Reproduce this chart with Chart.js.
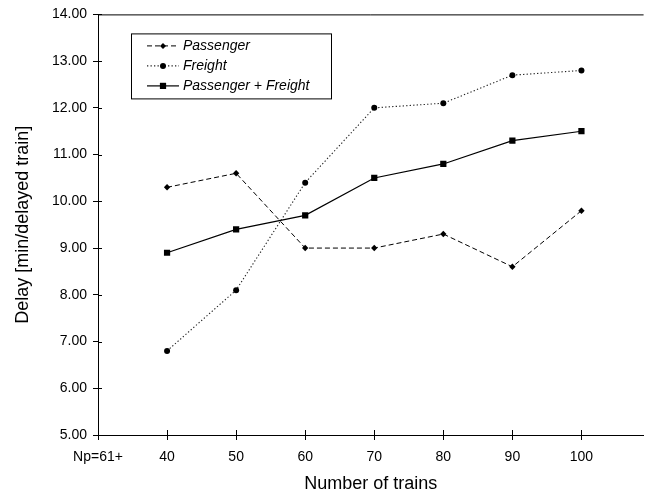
<!DOCTYPE html>
<html>
<head>
<meta charset="utf-8">
<script src="https://cdn.jsdelivr.net/npm/chart.js@4"></script>
<style>
  html, body { margin: 0; padding: 0; background: #fff; }
  #wrap { width: 648px; height: 495px; }
</style>
</head>
<body>
<div id="wrap"><canvas id="c" width="648" height="495"></canvas></div>
<script>
// ---- data ----
const xTickLabels = ['Np=61+', '40', '50', '60', '70', '80', '90', '100'];
const categories = ['40', '50', '60', '70', '80', '90', '100'];
const passenger = [10.3, 10.6, 9.0, 9.0, 9.3, 8.6, 9.8];
const freight = [6.8, 8.1, 10.4, 12.0, 12.1, 12.7, 12.8];
const combined = [8.9, 9.4, 9.7, 10.5, 10.8, 11.3, 11.5];
const seriesNames = ['Passenger', 'Freight', 'Passenger + Freight'];

const FONT = "'Liberation Sans', Arial, sans-serif";

function toPoints(values) {
  return values.map((v, i) => ({ x: xTickLabels.indexOf(categories[i]), y: v }));
}

const datasets = [
  { label: seriesNames[0], data: toPoints(passenger), borderColor: '#000', backgroundColor: '#000',
    borderWidth: 1, borderDash: [5, 3], pointStyle: 'rectRot', pointRadius: 3.2, pointBorderWidth: 0, tension: 0 },
  { label: seriesNames[1], data: toPoints(freight), borderColor: '#222', backgroundColor: '#000',
    borderWidth: 1.1, borderDash: [1.3, 2.2], pointStyle: 'circle', pointRadius: 3, pointBorderWidth: 0, tension: 0 },
  { label: seriesNames[2], data: toPoints(combined), borderColor: '#000', backgroundColor: '#000',
    borderWidth: 1.2, borderDash: [], pointStyle: 'rect', pointRadius: 4.4, pointBorderWidth: 0, tension: 0 }
];

function drawMarker(ctx, style, x, y, r) {
  ctx.beginPath();
  if (style === 'circle') {
    ctx.arc(x, y, r, 0, Math.PI * 2);
  } else if (style === 'rect') {
    const s = r * Math.SQRT1_2;
    ctx.rect(x - s, y - s, 2 * s, 2 * s);
  } else {
    ctx.moveTo(x, y - r); ctx.lineTo(x + r, y); ctx.lineTo(x, y + r); ctx.lineTo(x - r, y);
    ctx.closePath();
  }
  ctx.fill();
}

const framePlugin = {
  id: 'frame',
  afterDraw(chart) {
    const { ctx, chartArea: a, scales } = chart;
    ctx.save();
    ctx.strokeStyle = '#000';
    ctx.lineWidth = 1;
    ctx.setLineDash([]);
    // top border of plot area
    ctx.beginPath();
    ctx.moveTo(a.left, a.top + 0.5);
    ctx.lineTo(a.right, a.top + 0.5);
    ctx.stroke();
    // inner halves of the crossing tick marks
    ctx.beginPath();
    scales.y.ticks.forEach(t => {
      const py = Math.round(scales.y.getPixelForValue(t.value)) + 0.5;
      ctx.moveTo(a.left, py); ctx.lineTo(a.left + 4, py);
    });
    scales.x.ticks.forEach(t => {
      const px = Math.round(scales.x.getPixelForValue(t.value)) + 0.5;
      ctx.moveTo(px, a.bottom); ctx.lineTo(px, a.bottom - 5);
    });
    ctx.stroke();
    ctx.restore();
  }
};

const legendPlugin = {
  id: 'boxLegend',
  afterDraw(chart) {
    const { ctx, chartArea: a } = chart;
    const bx = a.left + 33, by = a.top + 19, bw = 200, bh = 65;
    ctx.save();
    ctx.fillStyle = '#fff';
    ctx.fillRect(bx, by, bw, bh);
    ctx.strokeStyle = '#000';
    ctx.lineWidth = 1;
    ctx.setLineDash([]);
    ctx.strokeRect(bx + 0.5, by + 0.5, bw, bh);
    chart.data.datasets.forEach((ds, i) => {
      const cy = by + 12 + i * 20;
      ctx.strokeStyle = ds.borderColor;
      ctx.lineWidth = ds.borderWidth;
      ctx.setLineDash(ds.borderDash || []);
      ctx.beginPath();
      ctx.moveTo(bx + 16, cy + 0.5);
      ctx.lineTo(bx + 48, cy + 0.5);
      ctx.stroke();
      ctx.setLineDash([]);
      ctx.fillStyle = '#000';
      drawMarker(ctx, ds.pointStyle, bx + 32, cy + 0.5, ds.pointStyle === 'rect' ? 4.4 : 3);
      ctx.fillStyle = '#000';
      ctx.font = 'italic 14px ' + FONT;
      ctx.textBaseline = 'middle';
      ctx.textAlign = 'left';
      ctx.fillText(ds.label, bx + 52, cy + 1);
    });
    ctx.restore();
  }
};

new Chart(document.getElementById('c'), {
  type: 'line',
  data: { datasets },
  options: {
    responsive: false,
    animation: false,
    devicePixelRatio: 1,
    layout: { padding: { top: 14, right: 0, left: 0, bottom: 0 } },
    plugins: { legend: { display: false }, tooltip: { enabled: false } },
    scales: {
      x: {
        type: 'linear',
        min: 0,
        max: 7.9,
        afterFit(scale) { scale.height = 60; },
        ticks: {
          stepSize: 1,
          includeBounds: false,
          autoSkip: false,
          maxRotation: 0,
          padding: 9,
          color: '#000',
          font: { family: FONT, size: 14 },
          callback: (v) => Number.isInteger(v) && xTickLabels[v] !== undefined ? xTickLabels[v] : ''
        },
        grid: { display: true, drawOnChartArea: false, drawTicks: true, tickLength: 5, color: '#000' },
        border: { display: true, color: '#000', width: 1 },
        title: { display: true, text: 'Number of trains', color: '#000',
                 font: { family: FONT, size: 18 }, padding: { top: 0, bottom: 0 } }
      },
      y: {
        min: 5,
        max: 14,
        afterFit(scale) { scale.width = 98; },
        ticks: {
          stepSize: 1,
          padding: 6,
          color: '#000',
          font: { family: FONT, size: 14 },
          callback: (v) => Number(v).toFixed(2)
        },
        grid: { display: true, drawOnChartArea: false, drawTicks: true, tickLength: 5, color: '#000' },
        border: { display: true, color: '#000', width: 1 },
        title: { display: true, text: 'Delay [min/delayed train]', color: '#000',
                 font: { family: FONT, size: 18 }, padding: { top: 12, bottom: 0 } }
      }
    }
  },
  plugins: [framePlugin, legendPlugin]
});
</script>
</body>
</html>
